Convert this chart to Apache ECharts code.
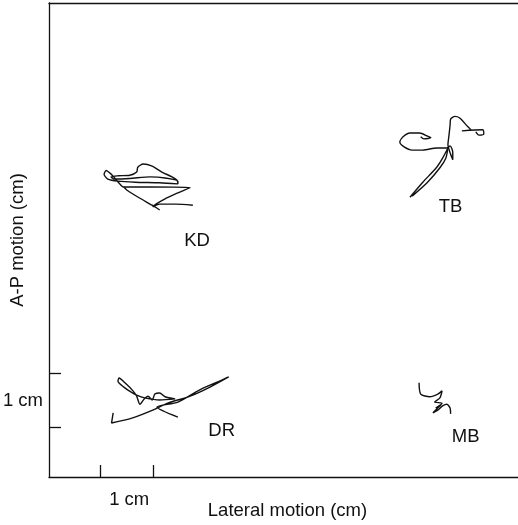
<!DOCTYPE html>
<html><head><meta charset="utf-8">
<script src="https://cdn.jsdelivr.net/npm/echarts@6/dist/echarts.min.js"></script>
<style>html,body{margin:0;padding:0;background:#fff}#c{width:518px;height:525px}</style>
</head><body><div id="c"></div>
<script>
// Axis extents (cm)
const xRange = [0, 8.77];
const yRange = [0, 8.86];
// 1 cm scale bars on each axis
const xScaleTicks = [0.95, 1.95];
const yScaleTicks = [0.93, 1.93];
const xScaleLabelAt = [1.5];
const yScaleLabelAt = [1.43];
const scaleLabel = '1 cm';
const xTitle = 'Lateral motion (cm)';
const yTitle = 'A-P motion (cm)';
// Subject labels
const subjects = ['KD', 'TB', 'DR', 'MB'];
const labelX = [2.77, 7.51, 3.23, 7.79];
const labelY = [4.41, 5.05, 0.86, 0.75];

// Sway traces (lateral cm, A-P cm)
const kdTrace1 = [[2.41,5.50],[2.39,5.55],[2.30,5.61],[2.11,5.70],[1.93,5.81],[1.76,5.85],[1.66,5.79],[1.64,5.70],[1.51,5.64],[1.29,5.63],[1.16,5.61],[1.21,5.57],[1.51,5.58],[1.89,5.61],[2.17,5.59],[2.41,5.53],[2.41,5.48],[2.07,5.50],[1.61,5.51],[1.29,5.53],[1.10,5.57],[1.03,5.66],[1.07,5.73],[1.14,5.68],[1.21,5.61],[1.36,5.44],[1.40,5.42],[1.89,5.42],[2.64,5.41],[2.41,5.31],[2.17,5.20],[2.00,5.10],[1.94,5.05],[2.07,5.10],[2.37,5.10],[2.69,5.08]];
const kdTrace2 = [[1.40,5.42],[1.46,5.36],[1.70,5.21],[1.93,5.08],[2.07,4.99]];
const tbTrace1 = [[6.75,5.23],[6.99,5.51],[7.25,5.79],[7.36,5.96],[7.46,6.15],[7.42,5.96],[7.31,5.78],[7.07,5.50],[6.79,5.25]];
const tbTrace2 = [[7.98,6.45],[8.04,6.39],[8.13,6.41],[8.11,6.49],[7.72,6.47],[7.89,6.49],[7.83,6.55],[7.68,6.71],[7.59,6.74],[7.51,6.69],[7.50,6.58],[7.48,6.39],[7.46,6.21],[7.50,6.06],[7.55,5.93],[7.55,6.07],[7.50,6.19],[7.44,6.15],[7.25,6.15],[6.99,6.11],[6.79,6.11],[6.64,6.17],[6.56,6.26],[6.62,6.36],[6.75,6.43],[6.93,6.43],[7.08,6.37],[7.14,6.34],[7.01,6.32],[6.95,6.36]];
const drTrace1 = [[1.20,1.20],[1.17,1.01],[1.55,1.10],[1.94,1.25],[2.22,1.38],[2.64,1.51],[3.01,1.68],[3.36,1.87],[3.23,1.81],[2.82,1.63],[2.41,1.40],[2.02,1.31],[2.41,1.12]];
const drTrace2 = [[2.36,1.46],[2.17,1.50],[2.07,1.57],[1.98,1.55],[1.93,1.44],[1.85,1.51],[1.78,1.46],[1.70,1.36],[1.64,1.51],[1.57,1.61],[1.42,1.76],[1.31,1.85],[1.29,1.79],[1.40,1.68],[1.53,1.59],[1.64,1.53],[1.79,1.48],[2.07,1.44],[2.36,1.46]];
const mbTrace1 = [[6.92,1.76],[6.95,1.55],[7.12,1.50],[7.27,1.55],[7.35,1.61],[7.31,1.48],[7.21,1.40],[7.35,1.38],[7.23,1.29],[7.33,1.35],[7.18,1.20],[7.27,1.25],[7.36,1.33],[7.44,1.36],[7.50,1.29],[7.51,1.18]];

const traces = [kdTrace1, kdTrace2, tbTrace1, tbTrace2, drTrace1, drTrace2, mbTrace1];

const FONT = '"Liberation Sans", Arial, Helvetica, sans-serif';
const INK = '#111';
const FS = 18.5;

const chart = echarts.init(document.getElementById('c'), null, {renderer: 'canvas'});

const series = traces.map(t => ({
  type: 'line',
  data: t,
  showSymbol: false,
  smooth: 0.25,
  lineStyle: {color: INK, width: 1.4},
  silent: true,
  animation: false
}));

series.push({
  type: 'scatter',
  data: subjects.map((s, i) => [labelX[i], labelY[i], s]),
  symbolSize: 1,
  itemStyle: {color: 'rgba(0,0,0,0)', opacity: 1},
  label: {
    show: true, position: 'inside',
    formatter: p => p.data[2],
    color: INK, fontSize: FS, fontFamily: FONT,
    textBorderWidth: 0, textBorderColor: 'transparent'
  },
  labelLayout: {hideOverlap: false},
  silent: true,
  animation: false
});

chart.setOption({
  animation: false,
  backgroundColor: '#fff',
  grid: {left: 49, right: 0, top: 3, bottom: 48, containLabel: false, outerBoundsMode: 'none'},
  xAxis: [{
    type: 'value', min: xRange[0], max: xRange[1],
    name: xTitle, nameLocation: 'middle', nameGap: 24, nameMoveOverlap: false,
    nameTextStyle: {fontSize: FS, fontFamily: FONT, color: INK, padding: [0, 0, 0, 8]},
    axisLine: {show: true, lineStyle: {color: INK, width: 1.3}},
    axisTick: {show: true, inside: true, length: 12, customValues: xScaleTicks, lineStyle: {color: INK, width: 1.3}},
    axisLabel: {show: true, customValues: xScaleLabelAt, formatter: () => scaleLabel, margin: 13, fontSize: FS, fontFamily: FONT, color: INK},
    splitLine: {show: false}
  }, {
    type: 'value', position: 'top', min: xRange[0], max: xRange[1],
    axisLine: {show: true, onZero: false, lineStyle: {color: INK, width: 1.3}},
    axisTick: {show: false}, axisLabel: {show: false}, splitLine: {show: false}
  }],
  yAxis: {
    type: 'value', min: yRange[0], max: yRange[1],
    name: yTitle, nameLocation: 'middle', nameGap: 22, nameMoveOverlap: false,
    nameTextStyle: {fontSize: FS, fontFamily: FONT, color: INK},
    axisLine: {show: true, lineStyle: {color: INK, width: 1.3}},
    axisTick: {show: true, inside: true, length: 12, customValues: yScaleTicks, lineStyle: {color: INK, width: 1.3}},
    axisLabel: {show: true, customValues: yScaleLabelAt, formatter: () => scaleLabel, margin: 6, fontSize: FS, fontFamily: FONT, color: INK},
    splitLine: {show: false}
  },
  series: series
});
</script>
</body></html>
